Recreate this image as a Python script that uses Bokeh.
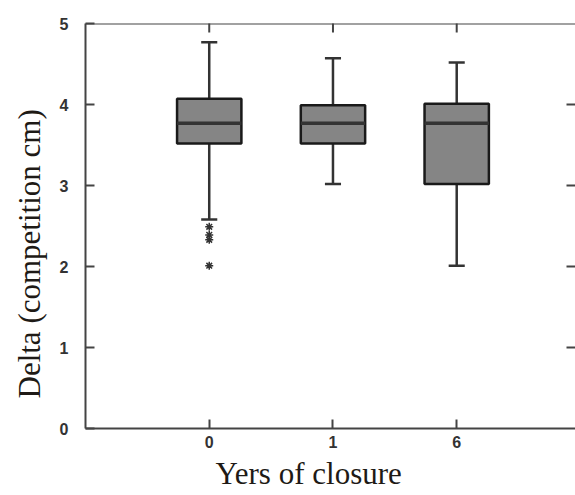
import math
from bokeh.plotting import figure
from bokeh.models import FixedTicker, Range1d, Span, Title
from bokeh.embed import file_html
from bokeh.resources import INLINE

# ---- data ----
categories = ["0", "1", "6"]
whisker_low = [2.58, 3.02, 2.01]
q1 = [3.52, 3.52, 3.02]
median = [3.77, 3.77, 3.77]
q3 = [4.07, 3.99, 4.01]
whisker_high = [4.77, 4.57, 4.52]
outlier_group = ["0", "0", "0", "0"]
outlier_values = [2.49, 2.39, 2.33, 2.01]
y_ticks = [0, 1, 2, 3, 4, 5]
x_title = "Yers of closure"
y_title = "Delta (competition cm)"

pos = {c: i + 1 for i, c in enumerate(categories)}
xs = [pos[c] for c in categories]
box_w = 0.52
cap_w = 0.13
X_END = 3.96
Y_END = 5

AX = "#444444"
p = figure(width=575, height=495, output_backend="svg", toolbar_location=None,
           x_range=Range1d(0, X_END), y_range=Range1d(0, Y_END),
           min_border_left=84, min_border_right=0, min_border_top=23, min_border_bottom=67)
p.background_fill_color = "white"
p.border_fill_color = "white"
p.grid.visible = False
p.outline_line_color = None

# top frame line
p.add_layout(Span(location=Y_END, dimension="width", line_color=AX, line_width=2))

# whiskers
p.segment(x0=xs, y0=whisker_low, x1=xs, y1=q1, line_color="#333333", line_width=2.5)
p.segment(x0=xs, y0=q3, x1=xs, y1=whisker_high, line_color="#333333", line_width=2.5)
# caps
p.segment(x0=[x - cap_w / 2 for x in xs], y0=whisker_low, x1=[x + cap_w / 2 for x in xs], y1=whisker_low,
          line_color="#333333", line_width=2.5)
p.segment(x0=[x - cap_w / 2 for x in xs], y0=whisker_high, x1=[x + cap_w / 2 for x in xs], y1=whisker_high,
          line_color="#333333", line_width=2.5)
# boxes
p.quad(left=[x - box_w / 2 for x in xs], right=[x + box_w / 2 for x in xs], bottom=q1, top=q3,
       fill_color="#858585", line_color="#1a1a1a", line_width=2.5)
# medians
p.segment(x0=[x - box_w / 2 for x in xs], y0=median, x1=[x + box_w / 2 for x in xs], y1=median,
          line_color="#333333", line_width=3.5)
# outliers
p.scatter(x=[pos[g] for g in outlier_group], y=outlier_values, marker="asterisk", size=8,
          line_color="#333333", line_width=1.5)

# inward ticks on the right and top frame edges
p.scatter(x=[X_END] * len(y_ticks[1:-1]), y=y_ticks[1:-1], marker="dash", size=18,
          line_color=AX, line_width=2)
p.scatter(x=xs, y=[Y_END] * len(xs), marker="dash", angle=math.pi / 2, size=18,
          line_color=AX, line_width=2)

for ax in (p.xaxis[0], p.yaxis[0]):
    ax.axis_line_color = AX
    ax.axis_line_width = 2
    ax.major_tick_line_color = AX
    ax.major_tick_line_width = 2
    ax.major_tick_in = 9
    ax.major_tick_out = 0
    ax.minor_tick_line_color = None
    ax.major_label_text_font = "Liberation Sans"
    ax.major_label_text_font_style = "bold"
    ax.major_label_text_font_size = "16px"
    ax.major_label_text_color = "#333333"

p.xaxis.ticker = FixedTicker(ticks=xs)
p.xaxis.major_label_overrides = {pos[c]: c for c in categories}
p.yaxis.ticker = FixedTicker(ticks=y_ticks)
p.xaxis.major_label_standoff = 7
p.yaxis.major_label_standoff = 17

p.add_layout(Title(text=x_title, align="left", offset=130, standoff=7,
                   text_font="Liberation Serif", text_font_size="31px", text_font_style="normal",
                   text_color="#1e1a16"), "below")
p.add_layout(Title(text=y_title, align="left", offset=30, standoff=19,
                   text_font="Liberation Serif", text_font_size="31px", text_font_style="normal",
                   text_color="#1e1a16"), "left")

open("out.html", "w").write(file_html(p, INLINE))
